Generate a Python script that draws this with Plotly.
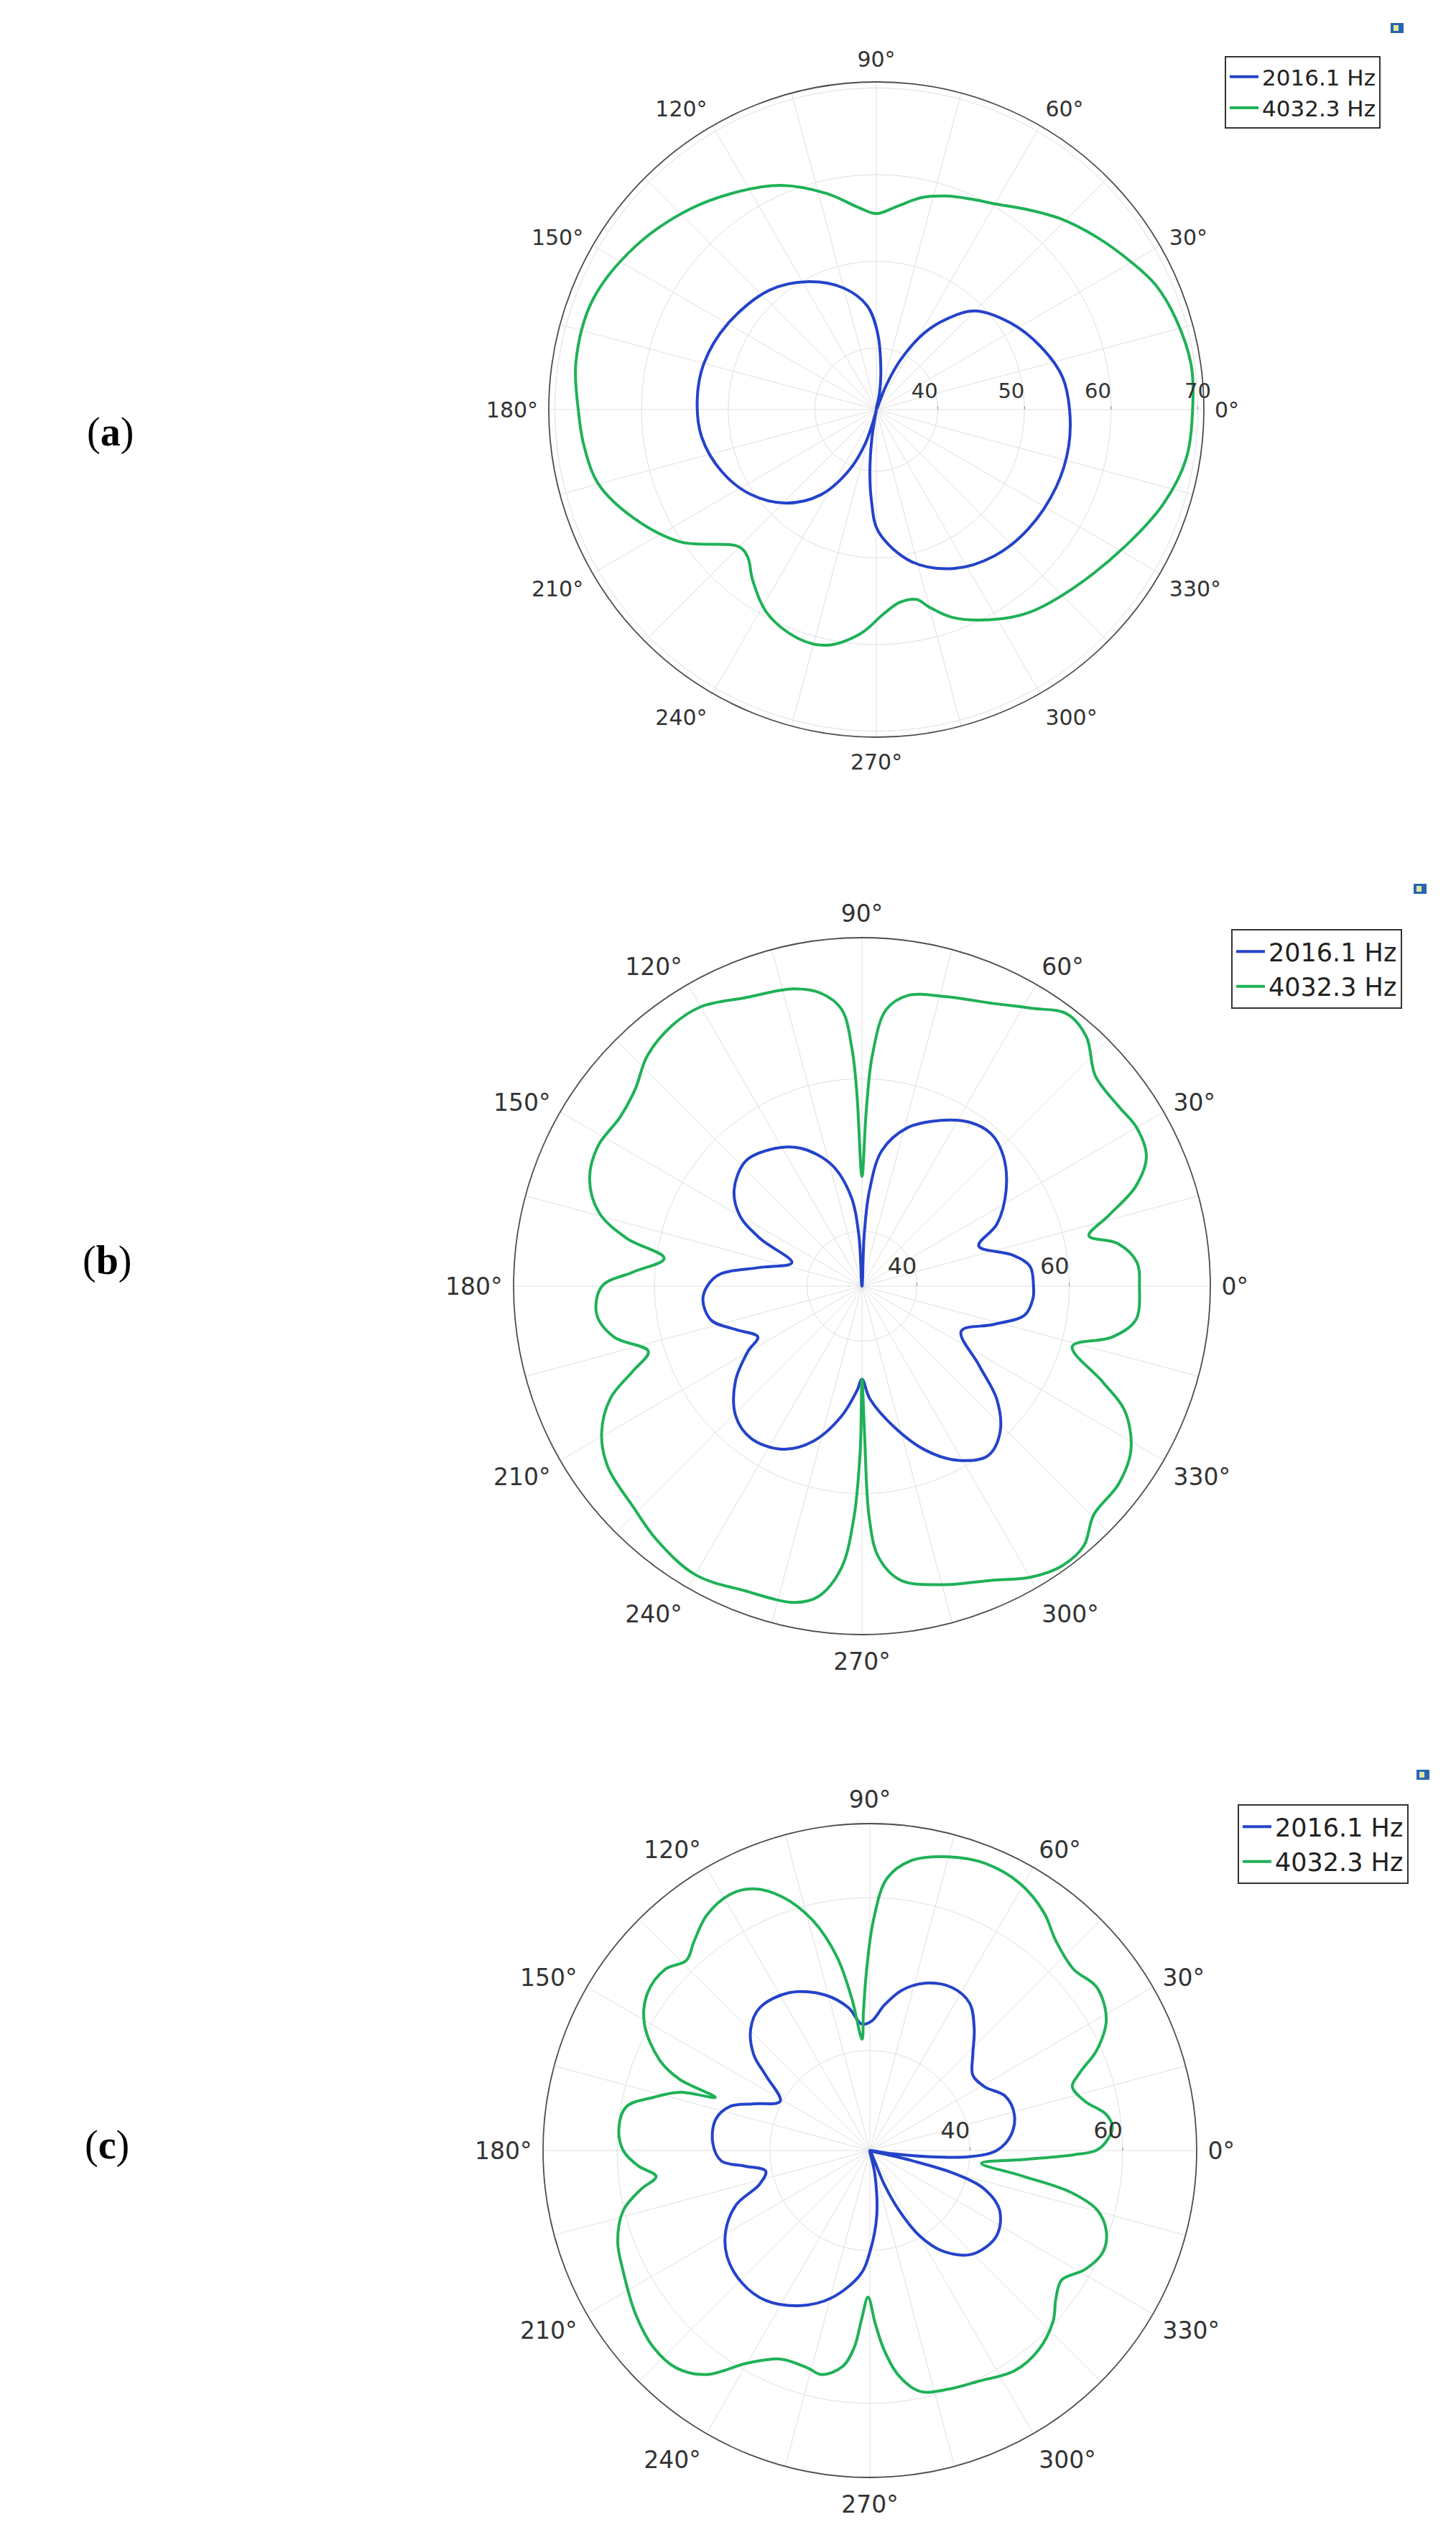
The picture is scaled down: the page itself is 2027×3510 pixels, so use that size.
"""Directivity patterns at 2016.1 Hz and 4032.3 Hz, three configurations."""

import plotly.graph_objects as go

W, H = 2027, 3510
BLUE = "#2443c9"
GREEN = "#1fb157"
GRID = "#dfdfdf"
FONT = "DejaVu Sans"
NBSP = "\u00a0"

SERIES_NAMES = ["2016.1 Hz", "4032.3 Hz"]
ANGLE_GRID = list(range(0, 360, 15))
ANGLE_TEXT = [f"{a}°" if a % 30 == 0 else "" for a in ANGLE_GRID]

# ---- panel (a) ----
A_RANGE = [32.9, 70.7]
A_TICKS = [40, 50, 60, 70]
A_TICK_TEXT = ["40", "50", "60", "70"]
A_THETA_BLUE = [0, 10, 21, 33, 45, 52, 58, 64, 68, 74, 79, 83, 89, 95, 105, 118, 132,
                150, 165, 177, 189, 202, 214, 226, 237, 246, 252, 256, 258, 261, 264,
                267, 271, 283, 296, 309, 322, 337, 349, 360]
A_R_BLUE = [55.2, 54.7, 53.2, 51.3, 49.0, 46.2, 43.3, 39.3, 35.8, 32.9, 34.8, 37.2,
            41.7, 44.9, 47.4, 49.6, 51.4, 52.7, 53.5, 53.6, 53.3, 52.1, 50.4, 47.9,
            44.6, 40.5, 37.0, 33.8, 32.9, 36.0, 40.0, 43.5, 47.0, 50.9, 53.3, 54.6,
            55.2, 55.5, 55.5, 55.2]
A_THETA_GREEN = [0, 8, 17, 24, 30, 38, 46, 53, 60, 66, 72, 78, 84, 90, 95, 103, 113,
                 122, 133, 146, 159, 171, 180, 187, 195, 204, 214, 225, 229, 234, 242,
                 251, 258, 266, 272, 277, 282, 285, 290, 299, 307, 318, 332, 342, 351,
                 360]
A_R_GREEN = [69.4, 69.6, 69.0, 68.2, 66.9, 65.2, 63.5, 61.8, 60.3, 59.5, 58.8, 57.9,
             56.5, 55.5, 56.3, 58.5, 61.0, 62.6, 64.5, 66.5, 68.0, 68.0, 67.3, 66.9,
             66.1, 63.6, 60.2, 55.3, 55.5, 57.2, 59.6, 60.8, 60.7, 58.8, 56.5, 55.3,
             55.3, 56.5, 58.4, 60.6, 62.2, 63.6, 65.8, 67.8, 69.1, 69.4]

# ---- panel (b) ----
B_RANGE = [32.8, 78.5]
B_TICKS = [40, 60]
B_TICK_TEXT = ["40", "60"]
B_THETA_BLUE = [0, 6.7, 11.6, 19, 24.7, 33.6, 42.6, 49.8, 56.8, 64.5, 74, 81.6, 85.5,
                87.5, 90, 93.5, 97, 104, 114, 124, 133, 143, 150, 155, 161.4, 170, 176,
                184, 192.6, 199, 206, 209.7, 217, 226, 234, 244, 252.6, 261, 267.3,
                270, 274, 283, 291, 298.6, 306.6, 313.3, 320, 326, 335.6, 343.8, 350,
                356, 360]
B_R_BLUE = [55.3, 55.0, 53.0, 49.0, 52.3, 55.5, 58.0, 59.0, 58.5, 56.9, 54.4, 50.8,
            45.4, 39.5, 32.8, 39.5, 44.7, 49.2, 52.6, 54.4, 55.2, 53.8, 51.3, 47.5,
            42.5, 46.7, 51.9, 53.7, 53.1, 50.3, 48.0, 50.0, 53.6, 56.6, 57.5, 56.6,
            54.1, 50.1, 46.5, 45.0, 47.6, 51.8, 55.8, 58.8, 60.5, 59.2, 55.9, 51.3,
            47.1, 50.8, 54.5, 55.3, 55.3]
B_THETA_GREEN = [0, 5, 9.5, 12.5, 16, 20, 24.5, 30, 35, 42, 48, 53, 58.6, 65, 74, 81,
                 85, 87.4, 88.6, 90, 91.5, 92.4, 94.2, 98, 103, 112, 120, 126, 133,
                 139, 145, 152, 158.5, 164.4, 168.5, 172, 176.5, 180, 186, 191.6, 197,
                 200.3, 204, 209.4, 215.4, 224, 231, 240, 249, 258, 262, 265.8, 268,
                 269.4, 270, 271, 271.8, 273.5, 277.5, 285.4, 294, 300, 305.6, 310.5,
                 315.4, 322.4, 328.7, 334.7, 338.3, 344, 348.5, 353, 360]
B_R_GREEN = [69.2, 69.0, 66.8, 63.3, 66.5, 71.0, 73.8, 74.4, 73.9, 74.0, 76.8, 77.5,
             75.5, 73.7, 72.3, 71.4, 69.2, 63.2, 55.8, 47.2, 58.0, 63.9, 69.2, 71.6,
             72.8, 73.6, 75.1, 75.1, 74.1, 72.2, 71.5, 72.0, 71.2, 68.6, 64.3, 59.0,
             62.9, 66.9, 67.8, 66.0, 62.1, 64.8, 68.9, 72.0, 73.7, 74.5, 75.6, 76.5,
             75.6, 75.2, 73.9, 69.9, 63.2, 54.3, 45.0, 52.1, 63.2, 68.4, 71.7, 73.4,
             75.0, 76.9, 77.9, 77.6, 75.5, 75.3, 74.1, 70.9, 66.8, 61.5, 66.3, 69.0,
             69.2]

# ---- panel (c) ----
C_RANGE = [26.9, 69.7]
C_TICKS = [40, 60]
C_TICK_TEXT = ["40", "60"]
C_THETA_BLUE = [0, 6.3, 14.1, 21.9, 29, 36.1, 42.9, 49.4, 55.9, 63.2, 71.6, 78.7,
                84.4, 89, 93.7, 98.5, 106.1, 117, 127.7, 134.4, 140.5, 144.2, 151.2,
                158.1, 162.5, 168.6, 177.2, 184, 187.1, 191.2, 197, 202.1, 209.1,
                216.7, 225.9, 235.2, 246.1, 255.2, 265.6, 270, 276, 282, 288, 293, 296,
                300.2, 306, 314.8, 326, 335.3, 341.3, 344.7, 346.5, 349, 352, 354,
                356.5, 360]
C_R_BLUE = [43.5, 45.5, 46.4, 46.0, 44.1, 43.6, 45.3, 47.9, 50.2, 50.8, 50.0, 48.3,
            46.0, 43.9, 43.5, 45.8, 48.1, 50.1, 50.5, 49.2, 46.6, 43.7, 40.3, 43.3,
            46.1, 47.5, 47.5, 46.4, 43.4, 40.8, 42.0, 45.8, 48.5, 50.2, 51.0, 50.8,
            49.1, 46.9, 43.2, 40.2, 35.5, 30.0, 26.9, 31.7, 35.6, 39.8, 43.2, 46.0,
            46.9, 45.6, 42.8, 38.5, 32.5, 26.9, 30.0, 34.5, 40.0, 43.5]
C_THETA_GREEN = [0, 2, 5.5, 8.7, 12.9, 17.5, 20.3, 24, 29, 35.7, 41.7, 48.4, 53.8,
                 60.6, 68.2, 75, 82, 86.4, 89.1, 91.1, 92.7, 94, 96.8, 99.7, 104, 109,
                 114, 118.6, 124.7, 130, 134, 138.5, 144.6, 150.6, 156.7, 159.5, 161,
                 163, 166.2, 169.8, 174.7, 180, 183.8, 186.9, 189.6, 193.6, 199.8,
                 206.3, 214.8, 222.2, 228.4, 233.9, 240.1, 246.8, 253.9, 257.9, 262.8,
                 265.5, 267.2, 269.3, 271.8, 274.1, 277.3, 281.7, 288.4, 295.3, 303.3,
                 310.2, 317, 321.6, 326, 331.1, 336.6, 341.2, 345.3, 348.3, 350.5,
                 353.5, 356.8, 358.8, 360]
C_R_GREEN = [56.5, 57.8, 58.8, 58.2, 55.8, 54.7, 56.2, 59.5, 62.3, 63.5, 62.6, 63.6,
             65.5, 67.0, 67.4, 66.7, 65.2, 62.6, 57.1, 50.3, 44.9, 41.5, 47.0, 52.7,
             58.0, 62.0, 64.4, 65.1, 64.4, 62.7, 61.5, 62.7, 62.6, 60.8, 56.9, 53.5,
             48.3, 53.0, 56.1, 59.3, 59.9, 59.2, 57.3, 55.1, 57.3, 60.1, 62.0, 62.9,
             64.3, 65.2, 65.0, 63.2, 59.0, 56.6, 56.5, 56.9, 55.4, 52.7, 49.0, 46.1,
             49.6, 53.1, 56.6, 59.1, 59.8, 60.3, 61.4, 61.1, 59.7, 58.0, 57.2, 59.1,
             60.2, 59.6, 57.7, 53.7, 47.2, 41.6, 47.5, 53.6, 56.5]

# label padding (non-breaking spaces) so the radial labels sit left of their ticks;
# the outermost label of (a) gets none so it stays clear of the "0°" label
PANELS = [
    dict(tag="a", center=(1212, 562), radius=456, font=30, rfont=29, rng=A_RANGE,
         ticks=A_TICKS, tick_text=A_TICK_TEXT, pad=[4, 4, 4, 0],
         blue=(A_THETA_BLUE, A_R_BLUE), green=(A_THETA_GREEN, A_R_GREEN),
         legend_xy=(1697, 70), legend_font=31, label_xy=(145, 593), icon=(1937, 31)),
    dict(tag="b", center=(1192, 1782), radius=485, font=33, rfont=32, rng=B_RANGE,
         ticks=B_TICKS, tick_text=B_TICK_TEXT, pad=[4, 4],
         blue=(B_THETA_BLUE, B_R_BLUE), green=(B_THETA_GREEN, B_R_GREEN),
         legend_xy=(1706, 1285), legend_font=35, label_xy=(141, 1746), icon=(1969, 1229)),
    dict(tag="c", center=(1203, 2985), radius=455, font=33, rfont=32, rng=C_RANGE,
         ticks=C_TICKS, tick_text=C_TICK_TEXT, pad=[4, 4],
         blue=(C_THETA_BLUE, C_R_BLUE), green=(C_THETA_GREEN, C_R_GREEN),
         legend_xy=(1715, 2503), legend_font=35, label_xy=(141, 2977), icon=(1973, 2462)),
]


def polar_layout(panel):
    cx, cy = panel["center"]
    rad = panel["radius"]
    angfont = dict(family=FONT, size=panel["font"], color="#333333")
    radfont = dict(family=FONT, size=panel["rfont"], color="#333333")
    return dict(
        domain=dict(x=[(cx - rad) / W, (cx + rad) / W],
                    y=[1 - (cy + rad) / H, 1 - (cy - rad) / H]),
        bgcolor="white",
        angularaxis=dict(
            rotation=0, direction="counterclockwise", tickmode="array",
            tickvals=ANGLE_GRID, ticktext=ANGLE_TEXT,
            ticks="outside", ticklen=8, tickcolor="rgba(0,0,0,0)",
            showline=True, linecolor="#4d4d4d", linewidth=1.8,
            showgrid=True, gridcolor=GRID, gridwidth=1.2, tickfont=angfont,
        ),
        radialaxis=dict(
            range=panel["rng"], tickmode="array", tickvals=panel["ticks"],
            ticktext=[t + NBSP * n for t, n in zip(panel["tick_text"], panel["pad"])],
            angle=0, tickangle=0, side="counterclockwise", showline=False,
            showgrid=True, gridcolor=GRID, gridwidth=1.2, ticks="outside", ticklen=4,
            tickcolor="#777777", tickfont=radfont,
        ),
    )


fig = go.Figure()
layout = dict(
    width=W, height=H, paper_bgcolor="white", plot_bgcolor="white",
    margin=dict(l=0, r=0, t=0, b=0, pad=0), showlegend=True,
    annotations=[], shapes=[],
)

for i, panel in enumerate(PANELS):
    suffix = "" if i == 0 else str(i + 1)
    subplot = "polar" + suffix
    legend = "legend" + suffix
    for (theta, r), name, color in zip((panel["blue"], panel["green"]), SERIES_NAMES,
                                       (BLUE, GREEN)):
        fig.add_trace(go.Scatterpolar(
            theta=theta, r=r, mode="lines", name=name, subplot=subplot, legend=legend,
            line=dict(color=color, width=4, shape="spline", smoothing=1.0),
            hoverinfo="skip",
        ))
    layout[subplot] = polar_layout(panel)
    lx, ly = panel["legend_xy"]
    layout[legend] = dict(
        x=lx / W, y=1 - ly / H, xanchor="left", yanchor="top",
        bgcolor="white", bordercolor="#333333", borderwidth=2,
        font=dict(family=FONT, size=panel["legend_font"], color="#222222"),
        tracegroupgap=0, itemwidth=40,
    )
    tx, ty = panel["label_xy"]
    layout["annotations"].append(dict(
        x=tx / W, y=1 - ty / H, xref="paper", yref="paper", showarrow=False,
        xanchor="center", yanchor="middle",
        text=f"(<b>{panel['tag']}</b>)",
        font=dict(family="Liberation Serif", size=56, color="black"),
    ))
    ix, iy = panel["icon"]
    layout["shapes"].append(dict(
        type="rect", xref="paper", yref="paper", line=dict(width=0),
        fillcolor="#2a64b4", x0=(ix - 9) / W, x1=(ix + 9) / W,
        y0=1 - (iy + 7) / H, y1=1 - (iy - 7) / H,
    ))
    layout["shapes"].append(dict(
        type="rect", xref="paper", yref="paper", line=dict(width=0),
        fillcolor="#dfe99a", x0=(ix - 5) / W, x1=(ix + 2) / W,
        y0=1 - (iy + 4) / H, y1=1 - (iy - 4) / H,
    ))

fig.update_layout(**layout)
fig.write_html("out.html")
